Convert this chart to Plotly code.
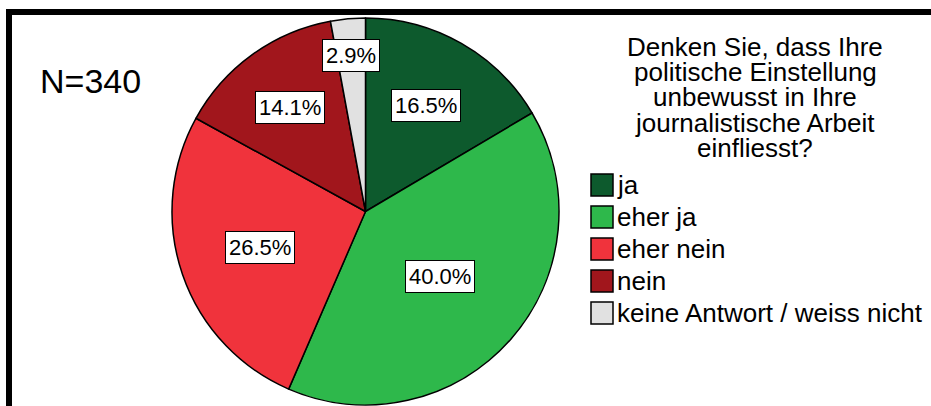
import math
import plotly.graph_objects as go

# ---- data ----
categories = ["ja", "eher ja", "eher nein", "nein", "keine Antwort / weiss nicht"]
percent = [16.5, 40.0, 26.5, 14.1, 2.9]
colors = ["#0D5A2D", "#2EB84B", "#F0333C", "#A1161C", "#E1E1E1"]
label_radius = [0.63, 0.51, 0.575, 0.665, 0.81]   # relative radial placement of the boxed labels
title_lines = ["Denken Sie, dass Ihre", "politische Einstellung", "unbewusst in Ihre",
               "journalistische Arbeit", "einfliesst?"]
n_text = "N=340"

W, H = 931, 406
FONT = "Liberation Sans, Arial"
# pie geometry in pixels
cx, cy, R = 365.5, 211.5, 193.5
dom_x = [(cx - R) / W, (cx + R) / W]
dom_y = [(H - cy - R) / H, (H - cy + R) / H]

fig = go.Figure(go.Pie(
    labels=categories, values=percent, sort=False, direction="clockwise", rotation=0,
    marker=dict(colors=colors, line=dict(color="black", width=1.5)),
    textinfo="none", hoverinfo="label+percent", showlegend=False,
    domain=dict(x=dom_x, y=dom_y),
))

annotations = []
shapes = []

# boxed percentage labels, placed at each slice's mid-angle
total = sum(percent)
cum = 0.0
for v, f in zip(percent, label_radius):
    mid = (cum + v / 2) / total * 2 * math.pi
    cum += v
    px = cx + R * f * math.sin(mid)
    py = cy - R * f * math.cos(mid)
    annotations.append(dict(
        x=px / W, y=(H - py) / H, xref="paper", yref="paper",
        text=f"{v:.1f}%", showarrow=False,
        font=dict(family=FONT, size=22, color="black"),
        bgcolor="white", bordercolor="black", borderwidth=1, borderpad=3,
        xanchor="center", yanchor="middle",
    ))

# N text
annotations.append(dict(
    x=38 / W, y=(H - 81) / H, xref="paper", yref="paper", text=n_text, showarrow=False,
    font=dict(family=FONT, size=34, color="black"),
    xanchor="left", yanchor="middle",
))

# legend title (one annotation per line for tight SPSS-like spacing)
for i, line in enumerate(title_lines):
    annotations.append(dict(
        x=755 / W, y=(H - (47 + 25.2 * i)) / H, xref="paper", yref="paper",
        text=line, showarrow=False,
        font=dict(family=FONT, size=26, color="black"),
        xanchor="center", yanchor="middle",
    ))

# custom legend: swatches + labels
for i, (cat, col) in enumerate(zip(categories, colors)):
    yc = 185 + 32 * i
    shapes.append(dict(
        type="rect", xref="paper", yref="paper",
        x0=591 / W, x1=613 / W, y0=(H - yc - 11) / H, y1=(H - yc + 11) / H,
        fillcolor=col, line=dict(color="black", width=1.5),
    ))
    annotations.append(dict(
        x=615 / W, y=(H - yc) / H, xref="paper", yref="paper", text=cat, showarrow=False,
        font=dict(family=FONT, size=26, color="black"),
        xanchor="left", yanchor="middle",
    ))

# frame lines (top and left)
shapes.append(dict(type="rect", xref="paper", yref="paper", x0=6 / W, x1=1.0,
                   y0=(H - 15) / H, y1=(H - 9) / H, fillcolor="black", line=dict(width=0)))
shapes.append(dict(type="rect", xref="paper", yref="paper", x0=6 / W, x1=12 / W,
                   y0=0, y1=(H - 9) / H, fillcolor="black", line=dict(width=0)))

fig.update_layout(
    width=W, height=H, margin=dict(l=0, r=0, t=0, b=0),
    paper_bgcolor="white", plot_bgcolor="white",
    annotations=annotations, shapes=shapes,
)

fig.write_html(
    "out.html",
    config={"displayModeBar": False},
    post_script="document.body.style.margin='0';document.body.style.overflow='hidden';",
)
